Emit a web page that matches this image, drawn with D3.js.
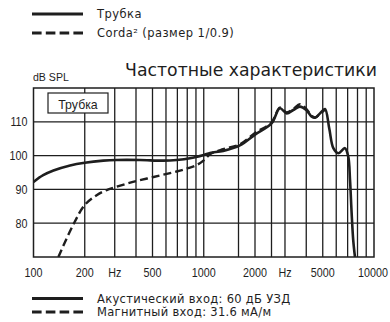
<!DOCTYPE html>
<html>
<head>
<meta charset="utf-8">
<script src="https://cdn.jsdelivr.net/npm/d3@7"></script>
<style>
  html, body { margin: 0; padding: 0; background: #fff; }
  svg { display: block; }
  .cond { font-family: "Liberation Sans", Arial, sans-serif; }
  .hum { font-family: "DejaVu Sans", "Noto Sans", sans-serif; }
</style>
</head>
<body>
<svg id="chart" width="390" height="322"></svg>
<script>
// Frequency response of the tube receiver, acoustic and magnetic input
const tubeFreq = [100, 114, 131, 164, 200, 257, 308, 422, 578, 693, 830, 1000, 1090, 1300, 1630, 2000, 2500, 2800, 3070, 3357, 3670, 4000, 4310, 4510, 4818, 5150, 5460, 5770, 6170, 6750, 7060, 7230, 7390, 7550, 7730];
const tubeDb   = [92.2, 94.2, 95.6, 97.1, 97.9, 98.5, 98.7, 98.7, 98.5, 98.7, 99.2, 100.2, 100.8, 101.4, 103.0, 106.2, 109.5, 114.0, 112.5, 113.5, 114.5, 113.5, 111.5, 111.2, 112.5, 113.8, 108.0, 102.2, 100.7, 102.2, 99.7, 92.8, 83.0, 75.0, 70.0];

const cordaFreq = [140, 171, 200, 235, 269, 300, 370, 500, 693, 800, 909, 1000, 1090, 1300, 1630, 2000, 2500, 2800, 3070, 3357, 3670, 4000, 4310, 4510, 4818, 5150];
const cordaDb   = [70.0, 79.5, 85.4, 88.3, 89.8, 90.6, 92.0, 93.6, 95.3, 96.2, 97.2, 98.6, 100.4, 101.9, 103.3, 106.7, 109.8, 114.2, 112.8, 113.8, 115.2, 113.8, 111.7, 111.3, 112.3, 113.6];

const gridFreq = [200, 300, 400, 500, 600, 700, 800, 900, 1000, 1600, 2000, 2500, 3000, 4000, 5000, 6000, 7000, 8000, 9000];
const xTickVals = [100, 200, 300, 500, 1000, 2000, 3000, 5000, 10000];
const xTickLabels = ["100", "200", "Hz", "500", "1000", "2000", "Hz", "5000", "10000"];
const yTickVals = [80, 90, 100, 110];

const title = "Частотные характеристики";
const yUnit = "dB SPL";
const boxLabel = "Трубка";
const topLegend = ["Трубка", "Corda² (размер 1/0.9)"];
const bottomLegend = ["Акустический вход: 60 дБ УЗД", "Магнитный вход: 31.6 мА/м"];

const ink = "#1e1e1e";
const narrow = 0.86;   // horizontal squeeze for the condensed axis lettering
const svg = d3.select("#chart");

const x = d3.scaleLog().domain([100, 10000]).range([33.5, 374]);
const y = d3.scaleLinear().domain([70, 120]).range([257, 88]);

// grid
const grid = svg.append("g");
grid.selectAll("line.v").data(gridFreq).join("line")
  .attr("x1", d => x(d)).attr("x2", d => x(d))
  .attr("y1", y(120)).attr("y2", y(70))
  .attr("stroke", ink).attr("stroke-width", 1.3);
grid.selectAll("line.h").data(yTickVals).join("line")
  .attr("x1", x(100)).attr("x2", x(10000))
  .attr("y1", d => y(d)).attr("y2", d => y(d))
  .attr("stroke", ink).attr("stroke-width", 1.3);
grid.append("rect")
  .attr("x", x(100)).attr("y", y(120))
  .attr("width", x(10000) - x(100)).attr("height", y(70) - y(120))
  .attr("fill", "none").attr("stroke", ink).attr("stroke-width", 1.5);

// y tick labels
svg.append("g").selectAll("text").data(yTickVals).join("text")
  .attr("class", "cond")
  .attr("transform", d => `translate(27.5,${y(d) + 4.5}) scale(${narrow},1)`)
  .attr("text-anchor", "end").attr("font-size", 12.5).attr("fill", ink)
  .text(d => d);

// x tick labels
svg.append("g").selectAll("text").data(xTickVals).join("text")
  .attr("class", "cond")
  .attr("transform", d => `translate(${x(d) - (d === 10000 ? 1 : 0)},277) scale(${narrow},1)`)
  .attr("text-anchor", "middle").attr("font-size", 12.5).attr("fill", ink)
  .text((d, i) => xTickLabels[i]);

svg.append("text").attr("class", "cond")
  .attr("transform", `translate(33,81) scale(${narrow + 0.06},1)`)
  .attr("font-size", 11.5).attr("fill", ink)
  .text(yUnit);

svg.append("text").attr("class", "hum")
  .attr("x", 377).attr("y", 76).attr("text-anchor", "end")
  .attr("font-size", 17.3).attr("fill", ink)
  .text(title);

// label box inside the plot
svg.append("rect")
  .attr("x", 48).attr("y", 93).attr("width", 60).attr("height", 20)
  .attr("fill", "#fff").attr("stroke", ink).attr("stroke-width", 1.2);
svg.append("text").attr("class", "cond")
  .attr("transform", `translate(78,108.5) scale(0.95,1)`)
  .attr("text-anchor", "middle")
  .attr("font-size", 13).attr("fill", ink)
  .text(boxLabel);

// curves
svg.append("clipPath").attr("id", "plotclip").append("rect")
  .attr("x", x(100)).attr("y", y(120))
  .attr("width", x(10000) - x(100)).attr("height", y(70) - y(120));

const line = d3.line()
  .x(d => x(d[0])).y(d => y(d[1]))
  .curve(d3.curveCatmullRom.alpha(0.5));

const corda = cordaFreq.map((f, i) => [f, cordaDb[i]]);
const tube = tubeFreq.map((f, i) => [f, tubeDb[i]]);

svg.append("path").datum(corda)
  .attr("clip-path", "url(#plotclip)")
  .attr("d", line).attr("fill", "none")
  .attr("stroke", ink).attr("stroke-width", 2.4)
  .attr("stroke-dasharray", "8,4");

svg.append("path").datum(tube)
  .attr("clip-path", "url(#plotclip)")
  .attr("d", line).attr("fill", "none")
  .attr("stroke", ink).attr("stroke-width", 2.6)
  .attr("stroke-linejoin", "round");

// legends
function legendRow(ly, dashed, label, size, spacing) {
  svg.append("line")
    .attr("x1", 32).attr("x2", 83).attr("y1", ly).attr("y2", ly)
    .attr("stroke", ink).attr("stroke-width", 2.8)
    .attr("stroke-dasharray", dashed ? "9.6,4.2" : null);
  svg.append("text").attr("class", "hum")
    .attr("x", 97).attr("y", ly + 4).attr("font-size", size)
    .attr("letter-spacing", spacing).attr("fill", ink)
    .text(label);
}
legendRow(14, false, topLegend[0], 11.5, 0.45);
legendRow(33, true, topLegend[1], 11.5, 0.45);
legendRow(298.5, false, bottomLegend[0], 11.5, 0.3);
legendRow(312, true, bottomLegend[1], 11.5, 0.3);
</script>
</body>
</html>
